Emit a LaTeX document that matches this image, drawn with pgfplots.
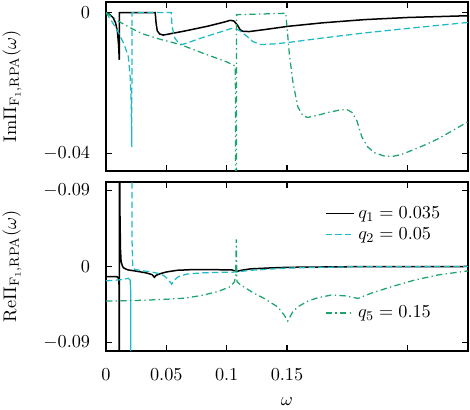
\documentclass[border=0pt]{standalone}
\usepackage{pgfplots}
\pgfplotsset{compat=1.18}
\definecolor{cqtwo}{HTML}{1FBAC4}
\definecolor{cqfive}{HTML}{1BA46C}
\newcommand{\figfont}{\fontsize{11}{13.2}\selectfont}
\pgfplotsset{
  panel/.style={
    width=217.2pt, height=101.4pt, scale only axis,
    anchor=south west,
    xmin=0, xmax=0.3,
    xtick={0,0.05,0.1,0.15,0.25},
    scaled ticks=false,
    tick align=inside, tick pos=both,
    major tick length=3.5pt,
    tick style={line width=0.7pt, black},
    axis line style={line width=0.9pt},
    tick label style={font=\figfont},
    label style={font=\figfont},
    yticklabel style={xshift=-6pt},
    xticklabel style={yshift=-7pt},
    ylabel style={at={(axis description cs:-0.26,0.5)}, anchor=center},
  },
  qone/.style={black, line width=0.9pt},
  qtwo/.style={cqtwo, line width=0.75pt, dash pattern=on 3.8pt off 2pt},
  qfive/.style={cqfive, line width=0.75pt, dash pattern=on 3.8pt off 2pt on 0.8pt off 2pt},
  gapleg/.style={legend image post style={xshift=-3.5pt}},
}

\begin{document}
\begin{tikzpicture}
\useasboundingbox (0,0) rectangle (282pt,246pt);

% imaginary part
\begin{axis}[panel, at={(63.6pt,143.4pt)},
  ymin=-0.045, ymax=0.003, ytick={-0.04,0}, yticklabels={$-0.04$,$0$},
  xticklabels={},
  ylabel={$\mathrm{Im}\Pi_{\mathrm{F}_1,\mathrm{RPA}}(\omega)$}]
\addplot[qone] table {
0 0
0.003 -0.0005
0.006 -0.0015
0.008 -0.003
0.0095 -0.0055
0.0105 -0.0095
0.011 -0.0134
0.0111 0
0.0408 0
0.0415 -0.003
0.0425 -0.0052
0.0445 -0.0061
0.0475 -0.0064
0.055 -0.0059
0.0644 -0.0053
0.0839 -0.0039
0.098 -0.0027
0.103 -0.0022
0.106 -0.0024
0.109 -0.0036
0.111 -0.0048
0.113 -0.0053
0.1186 -0.0054
0.13 -0.0049
0.151 -0.0039
0.18 -0.0029
0.2144 -0.0020
0.25 -0.0014
0.3 -0.0009
};
\addplot[qtwo] table {
0 0
0.005 -0.0026
0.01 -0.0055
0.015 -0.009
0.0185 -0.0125
0.02 -0.018
0.0208 -0.025
0.0212 -0.033
0.0214 -0.0382
0.0215 0
0.054 0
0.0548 -0.004
0.057 -0.0072
0.06 -0.0086
0.063 -0.0091
0.07 -0.0083
0.08 -0.0071
0.095 -0.0055
0.104 -0.0045
0.107 -0.0045
0.111 -0.0052
0.117 -0.0068
0.1215 -0.0082
0.128 -0.0091
0.14 -0.0089
0.151 -0.0085
0.18 -0.0072
0.214 -0.0058
0.25 -0.0045
0.3 -0.0028
};
\addplot[qfive] table {
0 0
0.01 -0.0024
0.02 -0.0043
0.03 -0.006
0.045 -0.0076
0.0617 -0.0091
0.08 -0.0115
0.1 -0.014
0.1072 -0.0152
0.1075 -0.1
0.108 -0.1
0.1082 -0.0006
0.13 -0.0004
0.149 -0.0002
0.1505 -0.006
0.152 -0.012
0.155 -0.02
0.159 -0.0268
0.163 -0.0292
0.167 -0.0298
0.175 -0.0292
0.185 -0.0283
0.195 -0.0276
0.2 -0.0276
0.204 -0.0284
0.208 -0.0308
0.212 -0.0353
0.217 -0.0382
0.2225 -0.0398
0.23 -0.0407
0.237 -0.0409
0.245 -0.0403
0.253 -0.0392
0.265 -0.0375
0.2756 -0.0358
0.2975 -0.0315
0.3 -0.031
};
\end{axis}

% real part
\begin{axis}[panel, at={(63.6pt,35.4pt)},
  ymin=-0.1, ymax=0.1, ytick={-0.09,0,0.09}, yticklabels={$-0.09$,$0$,$-0.09$},
  xticklabels={$0$,$0.05$,$0.1$,$0.15$,{}},
  xlabel={$\omega$},
  xlabel style={at={(axis description cs:0.5,-0.3)}, anchor=center},
  ylabel={$\mathrm{Re}\Pi_{\mathrm{F}_1,\mathrm{RPA}}(\omega)$},
  gapleg,
  legend style={at={(axis description cs:0.604,0.876)}, anchor=north west,
    draw=none, fill=none, font=\figfont, inner sep=0pt, row sep=0pt},
  legend cell align=left]
\addplot[qone] table {
0 -0.012
0.009 -0.012
0.0105 -0.014
0.0109 -0.025
0.0111 -0.5
0.0112 0.5
0.0116 0.06
0.012 0.02
0.0125 0.006
0.0135 0.001
0.0145 -0.0016
0.018 -0.004
0.025 -0.0055
0.033 -0.0075
0.038 -0.0095
0.0402 -0.0127
0.0415 -0.0105
0.045 -0.0085
0.05 -0.0065
0.059 -0.0045
0.07 -0.0038
0.09 -0.0038
0.104 -0.004
0.1085 -0.0058
0.112 -0.0045
0.12 -0.0028
0.135 -0.0018
0.15 -0.001
0.2 -0.0003
0.3 0
};
\addlegendentry{$q_1=0.035$}
\addplot[qtwo] table {
0 -0.017
0.01 -0.016
0.015 -0.015
0.0185 -0.014
0.02 -0.016
};
\addlegendentry{$q_2=0.05$}
\addplot[cqtwo, line width=0.75pt, forget plot] table {
0.02 -0.016
0.0205 -0.03
0.0209 -0.5
};
\addplot[qtwo, forget plot] table {
0.0213 0.5
0.0216 0.03
0.0222 -0.002
0.024 -0.0035
0.03 -0.005
0.038 -0.0065
0.044 -0.0085
0.048 -0.011
0.051 -0.0145
0.0535 -0.019
0.0545 -0.021
0.056 -0.017
0.06 -0.012
0.067 -0.009
0.08 -0.0075
0.1 -0.0068
0.108 -0.0066
0.112 -0.0058
0.12 -0.0045
0.15 -0.0018
0.2 -0.0004
0.3 0
};
\addplot[qfive, forget plot] table {
0 -0.041
0.03 -0.0400
0.05 -0.0388
0.065 -0.0375
0.078 -0.0346
0.0922 -0.0299
0.103 -0.0239
0.1065 -0.018
0.1075 -0.0100
0.108 0.032
0.1085 -0.018
0.1117 -0.0219
0.1228 -0.0318
0.1311 -0.0378
0.1422 -0.0478
0.1478 -0.0577
0.1506 -0.0645
0.1547 -0.0538
0.1589 -0.0478
0.1672 -0.041
0.1756 -0.037
0.1867 -0.0338
0.1978 -0.0347
0.2089 -0.0378
0.2194 -0.0318
0.2367 -0.0239
0.2561 -0.0159
0.2756 -0.0099
0.3 -0.0052
};
\end{axis}

% separate legend entry for q5
\begin{axis}[hide axis, scale only axis, width=217.2pt, height=101.4pt,
  anchor=south west, at={(63.6pt,35.4pt)},
  xmin=0, xmax=1, ymin=0, ymax=1, gapleg,
  legend style={at={(axis description cs:0.604,0.225)}, anchor=west,
    draw=none, fill=none, font=\figfont, inner sep=0pt}]
\addlegendimage{qfive}
\addlegendentry{$q_5=0.15$}
\end{axis}
\end{tikzpicture}
\end{document}
